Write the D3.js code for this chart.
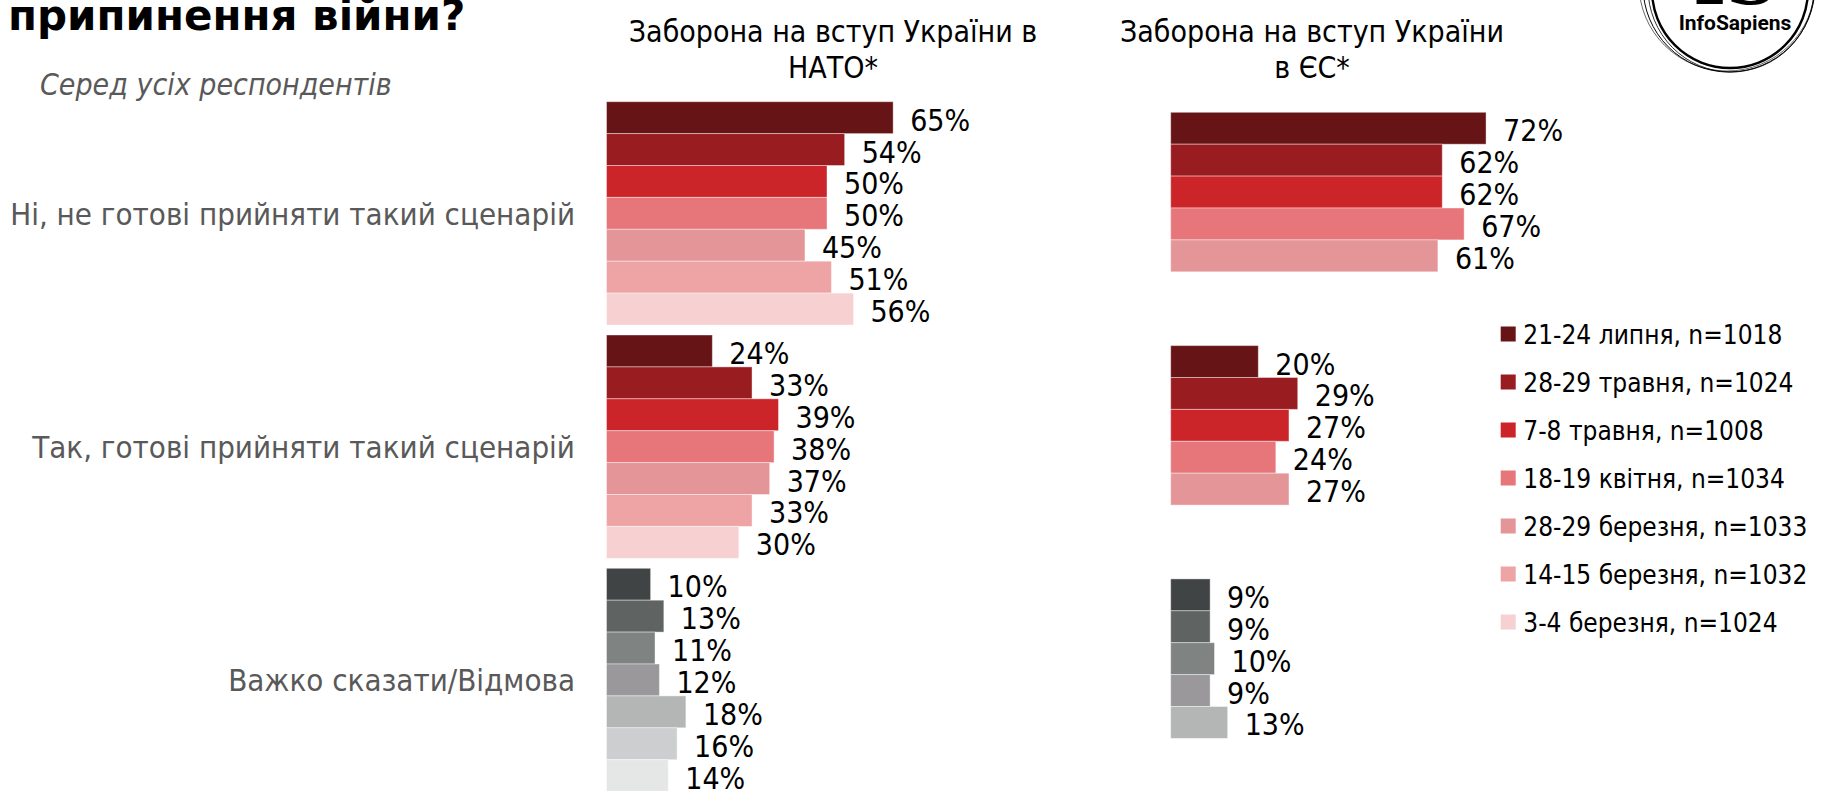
<!DOCTYPE html>
<html>
<head>
<meta charset="utf-8">
<script src="https://cdn.jsdelivr.net/npm/d3@7"></script>
<style>
    body { margin: 0; background: #fff; }
    text { font-family: "DejaVu Sans Condensed", "DejaVu Sans", sans-serif; }
</style>
</head>
<body>
<svg id="chart" width="1825" height="791"></svg>
<script>
// survey waves (legend), newest first
var periods = ["21-24 липня, n=1018", "28-29 травня, n=1024", "7-8 травня, n=1008",
    "18-19 квітня, n=1034", "28-29 березня, n=1033", "14-15 березня, n=1032", "3-4 березня, n=1024"];

var categories = ["Ні, не готові прийняти такий сценарій", "Так, готові прийняти такий сценарій",
    "Важко сказати/Відмова"];

var natoNo = [65, 54, 50, 50, 45, 51, 56];
var natoYes = [24, 33, 39, 38, 37, 33, 30];
var natoHard = [10, 13, 11, 12, 18, 16, 14];

var euNo = [72, 62, 62, 67, 61];
var euYes = [20, 29, 27, 24, 27];
var euHard = [9, 9, 10, 9, 13];

var redColors = ["#661416", "#991c20", "#cb2529", "#e7767a", "#e49598", "#eea3a5", "#f7d0d1"];
var greyColors = ["#404444", "#5f6362", "#7f8382", "#9a989a", "#b4b6b6", "#cdcecf", "#e5e6e6"];

var svg = d3.select("#chart");

var groupStep = 233.3,
    barH = 31.9;

var y = d3.scaleBand()
    .domain(categories)
    .range([101.7, 101.7 + 3 * groupStep]);

var z = d3.scaleOrdinal()
    .domain(periods)
    .range(redColors);

// title (second line, the first one is cut off above)
svg.append("text")
    .attr("x", 8)
    .attr("y", 30)
    .attr("font-size", 42)
    .attr("font-weight", "bold")
    .style("font-family", "DejaVu Sans")
    .attr("fill", "#000")
    .text("припинення війни?");

svg.append("text")
    .attr("x", 40)
    .attr("y", 95)
    .attr("font-size", 30)
    .attr("font-style", "italic")
    .attr("fill", "#595959")
    .text("Серед усіх респондентів");

// category labels
svg.append("g")
    .selectAll("text")
    .data(categories)
    .enter().append("text")
    .attr("x", 575)
    .attr("y", function (d) {
        return y(d) + 7 * barH / 2;
    })
    .attr("dy", "0.36em")
    .attr("text-anchor", "end")
    .attr("font-size", 31)
    .attr("fill", "#595959")
    .text(function (d) {
        return d;
    });

function drawPanel(x0, pxPer, offset, title, cx, series) {
    var n = series[0].length;
    var x = d3.scaleLinear()
        .domain([0, 100])
        .range([x0, x0 + 100 * pxPer]);
    var yIn = d3.scaleBand()
        .domain(periods.slice(0, n))
        .range([0, n * barH]);

    var t = svg.append("text")
        .attr("text-anchor", "middle")
        .attr("font-size", 30)
        .attr("fill", "#000");
    t.append("tspan").attr("x", cx).attr("y", 42).text(title[0]);
    t.append("tspan").attr("x", cx).attr("y", 78).text(title[1]);

    var rows = [];
    categories.forEach(function (c, ci) {
        series[ci].forEach(function (v, i) {
            rows.push({cat: c, ci: ci, period: periods[i], i: i, value: v});
        });
    });

    var g = svg.append("g");

    g.selectAll("rect")
        .data(rows)
        .enter().append("rect")
        .attr("x", x(0))
        .attr("y", function (d) {
            return y(d.cat) + offset + yIn(d.period);
        })
        .attr("width", function (d) {
            return x(d.value) - x(0);
        })
        .attr("height", yIn.bandwidth())
        .attr("fill", function (d) {
            return d.ci === 2 ? greyColors[d.i] : z(d.period);
        })
        .attr("stroke", "#fff")
        .attr("stroke-opacity", 0.4)
        .attr("stroke-width", 1);

    g.selectAll(".lbl")
        .data(rows)
        .enter().append("text")
        .attr("class", "lbl")
        .attr("x", function (d) {
            return x(d.value) + 17;
        })
        .attr("y", function (d) {
            return y(d.cat) + offset + yIn(d.period) + yIn.bandwidth() / 2 + 13;
        })
        .attr("font-size", 30)
        .attr("fill", "#000")
        .text(function (d) {
            return d.value + "%";
        });
}

drawPanel(606.5, 4.41, 0, ["Заборона на вступ України в", "НАТО*"], 833, [natoNo, natoYes, natoHard]);
drawPanel(1170.7, 4.38, 10.6, ["Заборона на вступ України", "в ЄС*"], 1312, [euNo, euYes, euHard]);

// legend
var legend = svg.append("g")
    .selectAll("g")
    .data(periods)
    .enter().append("g")
    .attr("transform", function (d, i) {
        return "translate(1500.7," + (334 + i * 48) + ")";
    });

legend.append("rect")
    .attr("y", -7.5)
    .attr("width", 15)
    .attr("height", 15)
    .attr("fill", z);

legend.append("text")
    .attr("x", 22.6)
    .attr("y", 9.5)
    .attr("font-size", 26)
    .attr("fill", "#000")
    .text(function (d) {
        return d;
    });

// logo
var logo = svg.append("g");
[[1729, -14, 86, 86, 1], [1731, -12, 83, 84, 0.8], [1727, -16, 88, 87, 0.6], [1730, -10, 78, 78, 2.4]]
    .forEach(function (e) {
        logo.append("ellipse")
            .attr("cx", e[0]).attr("cy", e[1])
            .attr("rx", e[2]).attr("ry", e[3])
            .attr("fill", "none")
            .attr("stroke", "#000")
            .attr("stroke-width", e[4]);
    });
logo.append("text")
    .attr("x", 1735)
    .attr("y", 4)
    .attr("text-anchor", "middle")
    .attr("font-size", 70)
    .attr("font-weight", "bold")
    .style("font-family", "DejaVu Serif")
    .text("IS");
logo.append("text")
    .attr("x", 1735)
    .attr("y", 30)
    .attr("text-anchor", "middle")
    .attr("font-size", 21)
    .attr("font-weight", "bold")
    .style("font-family", "Roboto")
    .text("InfoSapiens");
</script>
</body>
</html>
